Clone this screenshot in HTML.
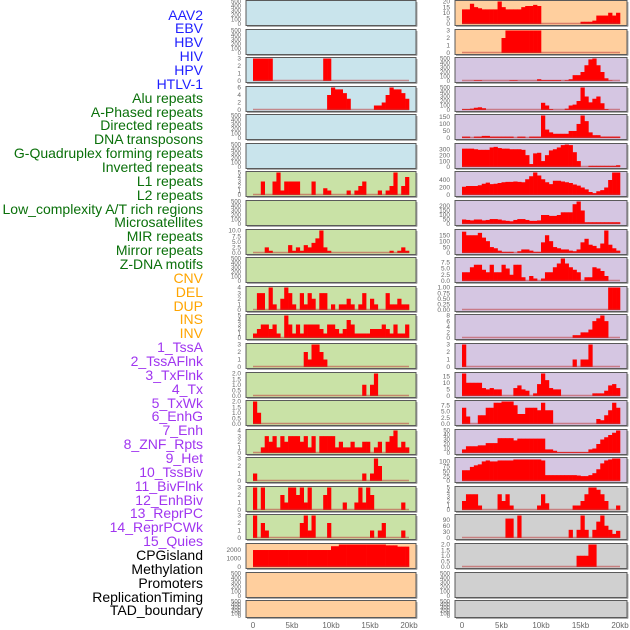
<!DOCTYPE html>
<html><head><meta charset="utf-8">
<style>
html,body{margin:0;padding:0;background:#fff;}
#wrap{position:relative;width:630px;height:630px;overflow:hidden;font-family:"Liberation Sans",sans-serif;}
.lab{position:absolute;right:427px;font-size:14px;line-height:14px;white-space:nowrap;}
svg{position:absolute;left:0;top:0;}
</style></head>
<body>
<div id="wrap">
<div id="labels"></div>
<svg id="chart" width="630" height="630"></svg>
</div>
<script>
// ---------- labels ----------
const trackLabels = ["AAV2","EBV","HBV","HIV","HPV","HTLV-1","Alu repeats","A-Phased repeats","Directed repeats","DNA transposons","G-Quadruplex forming repeats","Inverted repeats","L1 repeats","L2 repeats","Low_complexity A/T rich regions","Microsatellites","MIR repeats","Mirror repeats","Z-DNA motifs","CNV","DEL","DUP","INS","INV","1_TssA","2_TssAFlnk","3_TxFlnk","4_Tx","5_TxWk","6_EnhG","7_Enh","8_ZNF_Rpts","9_Het","10_TssBiv","11_BivFlnk","12_EnhBiv","13_ReprPC","14_ReprPCWk","15_Quies","CPGisland","Methylation","Promoters","ReplicationTiming","TAD_boundary"];
const labelGroups = ["v","v","v","v","v","v","r","r","r","r","r","r","r","r","r","r","r","r","r","s","s","s","s","s","c","c","c","c","c","c","c","c","c","c","c","c","c","c","c","o","o","o","o","o"];
const xTickLabels = ["0","5kb","10kb","15kb","20kb"];
const xTickValues = [0,5,10,15,20];

// ---------- data (40 bins of 0.5 kb) ----------
const L_HIV = [3,3,3,3,3,0,0,0,0,0, 0,0,0,0,0,0,0,0,3,3, 0,0,0,0,0,0,0,0,0,0, 0,0,0,0,0,0,0,0,0,0];
const L_ALU = [0,0,0,0,0,0,0,0,0,0, 0,0,0,0,0,0,0,0,0,4, 6,5.5,5.5,4.5,3,0,0,0,0,0, 0,1.2,1.2,2,4,6,5.5,5.5,4.5,3];
const L_L1 = [0,0,3,0,0,3,5,1,3,3, 3,3,0,0,0,3,0,0,1.5,1, 0,0,0,0,1,0,1,2,3,0, 0,0,1,0,1,2,5,0,2,4];
const L_MIR = [0,0,0,2.5,1,0,0,0,0,3.5, 1,2.5,1,3.5,2.5,4.5,6.5,10,2.5,1, 0,0,0,0,0,0,0,0,0,0, 0,0,0,0,0,1,0,1,2.5,1];
const L_DEL = [0,3,3,0,4,1,0,2,4,3, 1,0,3,1,3,2,0,3,3,0, 1,0,1,1,2,1,0,1,3,0, 2,1,0,0,3,1,1,2,1,1];
const L_DUP = [1,2,3,3,2,3,1,0,5,3, 1,3,1,3,3,3,3,2,1,3, 3,2,1,2,4,3,1,1,1,1, 2,2,2,3,2,1,3,1,1,3];
const L_TSSA = [0,0,0,0,0,0,0,0,0,0, 0,0,0,2,1,3,3,2,1,0, 0,0,0,0,0,0,0,0,0,0, 0,0,0,0,0,0,0,0,0,0];
const L_TSSAFLNK = [0,0,0,0,0,0,0,0,0,0, 0,0,0,0,0,0,0,0,0,0, 0,0,0,0,0,0,0,0,1,0, 1,2,0,0,0,0,0,0,0,0];
const L_TXFLNK = [2,1,0,0,0,0,0,0,0,0, 0,0,0,0,0,0,0,0,0,0, 0,0,0,0,0,0,0,0,0,0, 0,0,0,0,0,0,0,0,0,0];
const L_TX = [0,0,1,3,2,3,1,3,2,3, 3,3,2,3,1,3,0,3,3,3, 3,1,2,1,1,2,1,1,2,2, 0,1,2,0,2,3,4,1,2,1];
const L_TXWK = [1,0,0,0,0,0,0,0,0,0, 0,0,0,0,0,0,0,0,0,0, 0,0,0,0,0,0,0,0,1,0, 1,3,2,0,0,0,0,0,0,0];
const L_ENHG = [3,0,3,0,0,0,0,2,1,3, 3,2,3,1,3,0,0,0,2,3, 0,0,0,1,0,0,1,3,1,3, 2,0,0,0,0,0,0,0,1,0];
const L_ENH = [3,0,2,1,0,0,0,0,0,0, 0,0,2,3,1,3,0,0,0,2, 0,0,0,0,0,0,0,0,0,0, 1,0,1,2,0,0,0,0,1,0];
const L_CPG = [2000,2000,2000,2000,2000,2000,2000,2000,2000,2000, 2000,2000,2000,2000,2000,2000,2000,2000,2000,2000, 2450,2450,2650,2650,2650,2650,2650,2650,2650,2650, 2650,2650,2650,2650,2550,2550,2550,2400,2400,2400];

const R_AAV2 = [13,13,18,15,14,13,13,13,13,20, 15,13,13,13,13,15,16,16,17,16, 0,0,0,0,0,0,0,0,0,0, 2,2,2,3,7.5,7.5,7.5,10,7.5,10];
const R_EBV = [0,0,0,0,0,0,0,0,0,0, 2,3,3,3,3,3,3,3,3,3, 0,0,0,0,0,0,0,0,0,0, 0,0,0,0,0,0,0,0,0,0];
const R_HIV = [0,0,0,15,15,0,0,0,0,0, 0,0,15,15,0,0,0,0,0,40, 20,20,20,20,20,0,15,40,130,130, 200,350,480,500,350,200,60,10,0,0];
const R_HPV = [20,20,30,50,60,40,0,0,0,0, 0,0,0,0,0,0,0,0,0,0, 160,100,20,0,0,0,30,100,120,200, 500,300,170,250,300,150,20,0,0,0];
const R_HTLV = [10,10,0,10,10,15,15,10,10,10, 10,10,10,0,10,10,0,10,10,10, 160,60,40,30,30,30,30,50,50,100, 160,120,40,20,20,10,10,10,10,10];
const R_ALU = [310,310,310,300,290,290,290,330,340,320, 310,310,300,300,300,290,200,50,230,240, 100,200,280,300,330,370,380,370,250,100, 0,0,20,20,20,20,20,20,20,30];
const R_APH = [220,240,240,240,260,300,330,290,300,320, 340,350,350,360,350,340,420,500,600,520, 420,340,290,380,380,360,340,320,280,250, 200,150,80,50,100,130,200,400,600,600];
const R_DIR = [50,45,40,50,50,40,45,55,55,50, 40,35,30,45,55,55,45,35,35,40, 100,100,90,90,100,130,130,130,220,250, 150,20,20,20,20,20,20,20,20,20];
const R_DNA = [180,150,150,150,170,130,100,50,40,20, 10,10,10,0,15,30,30,20,10,10, 90,150,100,50,40,30,30,20,15,30, 90,120,70,60,40,80,190,70,40,20];
const R_GQ = [3.5,3.5,5.5,6.5,6.5,4.5,3.5,6.5,3.5,3.5, 6.5,5,2.5,6.5,6.5,1.5,0,2,1,0, 1,3.5,3.5,5.5,7,9,7,5.5,4.5,3.5, 0,1.5,1.5,5.5,5,4,2,0,0,0];
const R_INV = [0,0,0,0,0,0,0,0,0,0, 0,0,0,0,0,0,0,0,0,0, 0,0,0,0,0,0,0,0,0,0, 0,0,0,0,0,0,0,1,1,1];
const R_L1 = [0,0,0,0,0,0,0,0,0,0, 0,0,0,0,0,0,0,0,0,0, 0,0,0,0,0,0,0,0,1,1, 2,2,3,6,7,8,6,0,0,0];
const R_L2 = [3,0,0,0,0,0,0,0,0,0, 0,0,0,0,0,0,0,0,0,0, 0,0,0,0,0,0,0,0,1,0, 1,1,3,0,0,0,0,0,0,0];
const R_LOW = [17,10,10,10,10,6,5,6,5,5, 0,0,0,6,8,5,4,0,2,9, 17,12,6,5,5,0,0,0,0,0, 0,0,0,2,2,2,4,8,9,6];
const R_MICRO = [6.5,3,0,0,3.5,3.5,6.5,6.5,8.5,8.5, 9,9,9,7.5,4,4,6.5,6.5,6.5,5.5, 8.5,5.5,5.5,0,0,0,0,0,0,0, 0,0,0,0,2,1.5,3.5,5.5,8.5,6.5];
const R_MIR = [8,15,15,15,17,17,22,22,22,33, 33,33,33,28,32,32,32,32,32,32, 32,8,8,5,2,2,2,2,2,2, 2,2,8,10,20,30,35,40,45,50];
const R_MIRROR = [55,55,72,80,85,100,105,100,100,105, 105,105,105,110,110,110,110,110,110,110, 105,30,30,30,30,30,30,30,30,28, 25,25,30,40,60,90,105,110,115,115];
const R_ZDNA = [2,3.5,3.5,3.5,1,0,0,0,0,3.5, 2,3.5,1,0,0,0,0,0,0,1, 3.5,1.5,0,0,0,0,0,0,1,1, 2,3.5,5,5,4.5,3.5,2,0,0,1];
const R_CNV = [0,0,0,0,0,0,0,0,0,0, 0,95,95,0,110,0,0,0,0,0, 0,0,0,0,0,0,0,40,0,40, 110,40,0,40,80,110,60,40,20,35];
const R_DEL = [0,0,0,0,0,0,0,0,0,0, 0,0,0,0,0,0,0,0,0,0, 0,0,0,0,0,0,0,0,0,1, 1,1,2,2,0,0,0,0,0,0];

// ---------- tick label arrays ----------
const T_EMPTY = ["0","100","200","300","400","500"];
const T_3 = ["0","1","2","3"];
const T_4 = ["0","1","2","3","4"];
const T_5 = ["0","1","2","3","4","5"];
const T_6 = ["0","2","4","6"];
const T_10 = ["0.0","2.5","5.0","7.5","10.0"];
const T_2 = ["0.0","0.5","1.0","1.5","2.0"];
const T_CPG = ["0","1000","2000"];
const T_20 = ["0","5","10","15","20"];
const T_500 = ["0","100","200","300","400","500"];
const T_150 = ["0","50","100","150"];
const T_300 = ["0","100","200","300"];
const T_400 = ["0","200","400"];
const T_200 = ["0","50","100","150","200"];
const T_75 = ["0.0","2.5","5.0","7.5"];
const T_1 = ["0.00","0.25","0.50","0.75","1.00"];
const T_8 = ["0","2","4","6","8"];
const T_15 = ["0","5","10","15"];
const T_50 = ["0","10","20","30","40","50"];
const T_100 = ["0","25","50","75","100"];
const T_90 = ["0","30","60","90"];

const BG = {b:"#c9e4ec", g:"#c9e2a6", o:"#ffcf9e", p:"#d5c6e2", k:"#d0d0d0"};
const leftPanels = [
 ["b",null,T_EMPTY],["b",null,T_EMPTY],["b",L_HIV,T_3],["b",L_ALU,T_6],["b",null,T_EMPTY],["b",null,T_EMPTY],
 ["g",L_L1,T_5],["g",null,T_EMPTY],["g",L_MIR,T_10],["g",null,T_EMPTY],["g",L_DEL,T_4],["g",L_DUP,T_5],
 ["g",L_TSSA,T_3],["g",L_TSSAFLNK,T_2],["g",L_TXFLNK,T_2],["g",L_TX,T_4],["g",L_TXWK,T_3],["g",L_ENHG,T_3],["g",L_ENH,T_3],
 ["o",L_CPG,T_CPG],["o",null,T_EMPTY],["o",null,T_EMPTY]];
const rightPanels = [
 ["o",R_AAV2,T_20],["o",R_EBV,T_3],["p",R_HIV,T_500],["p",R_HPV,T_500],["p",R_HTLV,T_150],["p",R_ALU,T_300],
 ["p",R_APH,T_400],["p",R_DIR,T_200],["p",R_DNA,T_150],["p",R_GQ,T_75],["p",R_INV,T_1],["p",R_L1,T_8],
 ["p",R_L2,T_3],["p",R_LOW,T_15],["p",R_MICRO,T_75],["p",R_MIR,T_50],["p",R_MIRROR,T_100],
 ["k",R_ZDNA,T_5],["k",R_CNV,T_90],["k",R_DEL,T_2],["k",null,T_EMPTY],["k",null,T_EMPTY]];

// ---------- labels ----------
const colors = {v:"#1f1fff", r:"#0a700a", s:"#ffa500", c:"#a035f0", o:"#000"};
const labDiv = document.getElementById('labels');
trackLabels.forEach((t,i)=>{
  const d=document.createElement('div');
  d.className='lab';
  
  
  d.style.top=(15+i*13.86-7.5)+'px';
  d.style.color=colors[labelGroups[i]];
  d.textContent=t;
  labDiv.appendChild(d);
});

// ---------- panels ----------
const svg=document.getElementById('chart');
const NS="http://www.w3.org/2000/svg";
function el(tag,attrs,parent){const e=document.createElementNS(NS,tag);for(const k in attrs)e.setAttribute(k,attrs[k]);(parent||svg).appendChild(e);return e;}

function drawColumn(panels, left, right, x0, x20, tickX, side){
  const xs = kb => x0 + kb*(x20-x0)/20;
  panels.forEach((p,i)=>{
    const top=Math.round(i*28.58);
    const h = i===21 ? 17 : 25;
    const g=el('g',{});
    
    
    const frame=el('rect',{x:left,y:top+0.5,width:right-left,height:h,fill:BG[p[0]],stroke:"#5a5a5a","stroke-width":1},g);
    
    
    el('line',{x1:right+1,y1:top+2,x2:right+1,y2:top+h+1.5,stroke:"#aaa","stroke-width":1},g);
    el('line',{x1:left+1,y1:top+h+1.5,x2:right+1,y2:top+h+1.5,stroke:"#aaa","stroke-width":1},g);
    const ticks=p[2].map(parseFloat);
    const data=p[1];
    let ymax=ticks[ticks.length-1];
    if(data){ymax=Math.max(ymax,...data);}
    const yb=top+h-1, yt=top+1.5;
    const ys = v => yb - v/ymax*(yb-yt);
    if(data){
      data.forEach((v,b)=>{
        if(v<=0) return;
        const r=el('rect',{x:xs(b*0.5),y:ys(v),width:xs(b*0.5+0.5)-xs(b*0.5)+0.3,height:yb-ys(v),fill:"#ff0000"},g);
        
        
      });
      const base=el('line',{x1:xs(0),y1:yb-0.5,x2:xs(20),y2:yb-0.5,stroke:"rgba(190,60,60,0.55)","stroke-width":1.6},g);
      
      
    }
    p[2].forEach((lab,k)=>{
      const t=el('text',{x:tickX,y:ys(ticks[k])+2.2,"font-size":(p[2].length>5?6:6.5),fill:"#666","text-anchor":"end","font-family":"Liberation Sans, sans-serif"},g);
      
      
      t.textContent=lab;
    });
  });
  xTickValues.forEach((v,k)=>{
    const t=el('text',{x:xs(v),y:628,"font-size":8,fill:"#666","text-anchor":"middle","font-family":"Liberation Sans, sans-serif"});
    
    
    t.textContent=xTickLabels[k];
  });
}
drawColumn(leftPanels, 246, 416, 253, 409, 241, 'left');
drawColumn(rightPanels, 455, 627, 462, 620, 450, 'right');
</script>
</body></html>
